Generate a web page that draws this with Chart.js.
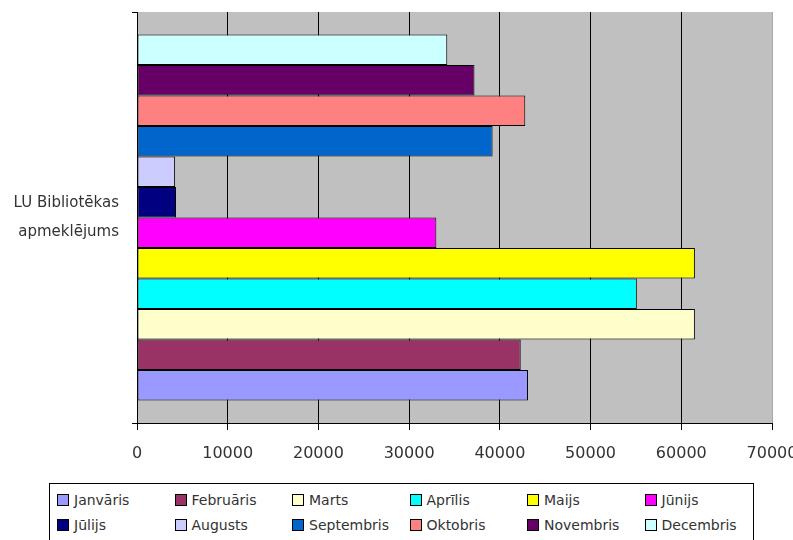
<!DOCTYPE html>
<html>
<head>
<meta charset="utf-8">
<script src="https://cdn.jsdelivr.net/npm/chart.js@4/dist/chart.umd.min.js"></script>
<style>
  html, body { margin: 0; padding: 0; background: #fff; overflow: hidden; }
  #wrap { position: relative; width: 793px; height: 540px; }
  #legend {
    position: absolute; left: 49px; top: 483px; width: 705px; height: 80px;
    border: 1px solid #000; box-sizing: border-box; background: #fff;
    display: grid; grid-template-columns: repeat(6, 117.5px);
    grid-auto-rows: 25px; padding: 3px 0 0 7px;
    font: 14px 'DejaVu Sans', sans-serif; color: #333;
  }
  .item { display: flex; align-items: center; white-space: nowrap; }
  .sw { width: 10px; height: 10px; border: 1px solid #000; margin-right: 5px; flex: none; }
</style>
</head>
<body>
<div id="wrap">
  <canvas id="c" width="793" height="540"></canvas>
  <div id="legend"></div>
</div>
<script>
// ——— DATA ———
const categories = [['LU Bibliotēkas', 'apmeklējums']];
const months = ['Janvāris', 'Februāris', 'Marts', 'Aprīlis', 'Maijs', 'Jūnijs',
                'Jūlijs', 'Augusts', 'Septembris', 'Oktobris', 'Novembris', 'Decembris'];
const visits = [43100, 42300, 61500, 55100, 61500, 33000,
                4300, 4200, 39200, 42800, 37200, 34200];
const colors = ['#9999FF', '#993366', '#FFFFCC', '#00FFFF', '#FFFF00', '#FF00FF',
                '#000080', '#CCCCFF', '#0066CC', '#FF8080', '#660066', '#CCFFFF'];
const xTicks = [0, 10000, 20000, 30000, 40000, 50000, 60000, 70000];

// Excel draws the first series at the bottom, so feed them reversed
const datasets = months.map((m, i) => ({
  label: m,
  data: [visits[i]],
  backgroundColor: colors[i],
  borderColor: '#000',
  borderWidth: 1,
  borderSkipped: false,
})).reverse();

const plotBg = {
  id: 'plotBg',
  beforeDraw(chart) {
    const { ctx, chartArea: a } = chart;
    ctx.save();
    ctx.fillStyle = '#C0C0C0';
    ctx.fillRect(a.left, a.top, a.right - a.left, a.bottom - a.top);
    ctx.restore();
  }
};

new Chart(document.getElementById('c'), {
  type: 'bar',
  data: { labels: categories, datasets },
  options: {
    responsive: false,
    animation: false,
    indexAxis: 'y',
    categoryPercentage: 0.89,
    barPercentage: 1,
    layout: { padding: { left: 0, top: 12, right: 21, bottom: 0 } },
    plugins: { legend: { display: false }, tooltip: { enabled: false } },
    scales: {
      x: {
        min: 0, max: 70000,
        afterBuildTicks: s => { s.ticks = xTicks.map(v => ({ value: v })); },
        afterFit: s => { s.height = 117; s.paddingLeft = 0; s.paddingRight = 0; },
        grid: {
          color: c => (c.tick && c.tick.value === 70000 ? '#A8A8A8' : '#000'),
          tickColor: '#000', tickLength: 7, lineWidth: 1
        },
        border: { color: '#000', width: 1 },
        ticks: {
          padding: 14, color: '#333', maxRotation: 0, autoSkip: false,
          font: { family: "'DejaVu Sans', sans-serif", size: 16 },
          callback: v => String(v)
        }
      },
      y: {
        afterFit: s => { s.width = 137; s.paddingTop = 0; s.paddingBottom = 0; },
        grid: { drawOnChartArea: false, color: '#000', tickLength: 5 },
        border: { color: '#000', width: 1 },
        ticks: {
          padding: 13, color: '#333',
          font: { family: "'DejaVu Sans', sans-serif", size: 15, lineHeight: 1.93 }
        }
      }
    }
  },
  plugins: [plotBg]
});

// ——— LEGEND ———
document.getElementById('legend').innerHTML = months.map((m, i) =>
  `<div class="item"><span class="sw" style="background:${colors[i]}"></span>${m}</div>`
).join('');
</script>
</body>
</html>
